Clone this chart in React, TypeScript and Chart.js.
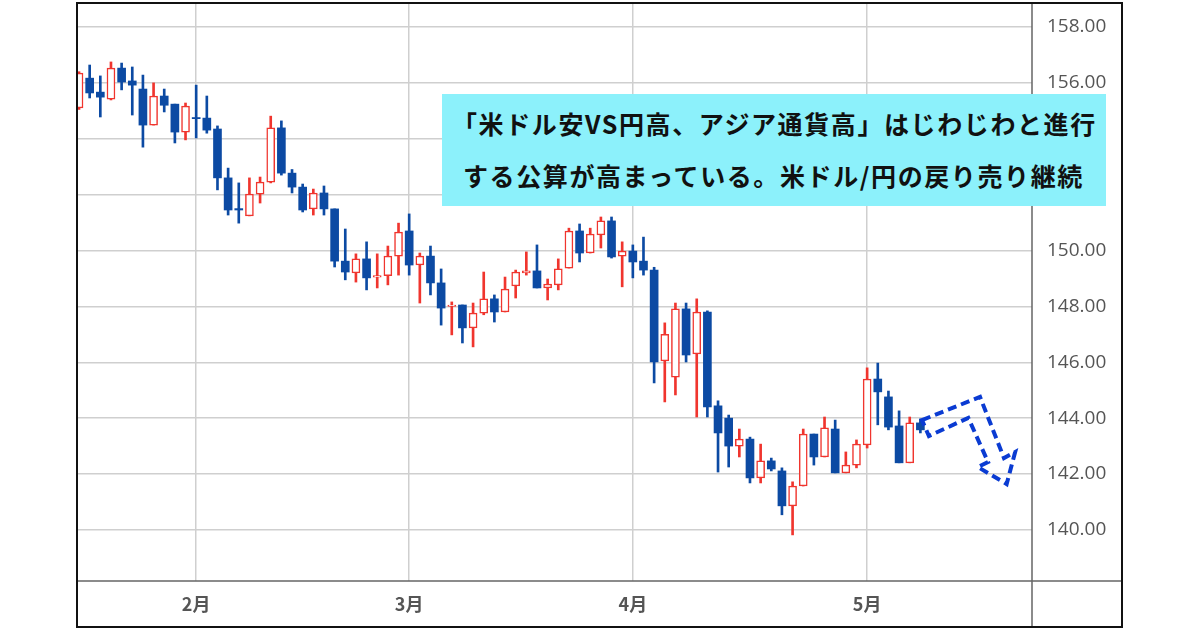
import React, { useEffect, useRef } from "react";
import { Chart, registerables } from "chart.js";

Chart.register(...registerables);

// Trading days (USD/JPY daily candles)
const dates = [
  "01-17", "01-20", "01-21", "01-22", "01-23", "01-24", "01-27", "01-28", "01-29", "01-30", "01-31",
  "02-03", "02-04", "02-05", "02-06", "02-07", "02-10", "02-11", "02-12", "02-13", "02-14",
  "02-17", "02-18", "02-19", "02-20", "02-21", "02-24", "02-25", "02-26", "02-27", "02-28",
  "03-03", "03-04", "03-05", "03-06", "03-07", "03-10", "03-11", "03-12", "03-13", "03-14",
  "03-17", "03-18", "03-19", "03-20", "03-21", "03-24", "03-25", "03-26", "03-27", "03-28", "03-31",
  "04-01", "04-02", "04-03", "04-04", "04-07", "04-08", "04-09", "04-10", "04-11",
  "04-14", "04-15", "04-16", "04-17", "04-18", "04-21", "04-22", "04-23", "04-24", "04-25",
  "04-28", "04-29", "04-30", "05-01", "05-02", "05-05", "05-06", "05-07", "05-08",
];

const opens = [
  155.10, 156.17, 155.67, 155.42, 156.53, 156.07, 155.78, 154.49, 155.53, 155.24, 154.24,
  154.76, 154.74, 154.35, 152.60, 151.50, 151.24, 152.02, 152.45, 154.39, 152.77,
  152.27, 151.49, 152.06, 151.49, 149.62, 149.20, 149.70, 149.05, 149.10, 149.80,
  150.70, 149.48, 149.80, 148.84, 148.00, 148.05, 147.23, 147.76, 148.27, 147.80,
  148.73, 149.20, 149.27, 148.66, 148.77, 149.37, 150.70, 149.91, 150.56, 151.06, 149.80,
  149.98, 149.62, 149.30, 146.05, 145.47, 147.91, 146.30, 147.80, 144.44,
  144.00, 143.00, 143.25, 141.86, 142.47, 142.11, 140.86, 141.57, 143.43, 142.61,
  143.61, 142.04, 142.32, 143.04, 145.40, 144.76, 143.72, 142.40, 143.83,
];

const highs = [
  156.40, 156.64, 156.25, 156.75, 156.71, 156.57, 156.28, 156.00, 155.78, 155.24, 155.28,
  155.92, 155.53, 154.46, 152.95, 152.42, 152.60, 152.63, 154.81, 154.64, 152.90,
  152.38, 152.20, 152.31, 151.49, 150.77, 149.88, 150.31, 149.88, 150.16, 150.98,
  151.31, 149.91, 150.16, 149.34, 148.16, 148.05, 148.12, 149.23, 148.41, 149.05,
  149.30, 149.95, 150.20, 148.98, 149.70, 150.80, 150.95, 150.80, 151.20, 151.20, 150.31,
  150.20, 150.48, 149.40, 147.41, 148.12, 148.12, 148.27, 147.84, 144.62,
  144.11, 143.61, 143.32, 143.07, 142.57, 142.22, 141.72, 143.61, 143.43, 144.04,
  143.93, 142.79, 143.22, 145.80, 145.97, 144.97, 144.26, 144.04, 143.97,
];

const lows = [
  155.05, 155.46, 154.78, 155.39, 155.75, 154.85, 153.70, 154.49, 154.96, 153.85, 153.96,
  154.03, 154.20, 152.17, 151.27, 150.98, 151.24, 151.70, 152.42, 152.70, 152.06,
  151.38, 151.27, 151.27, 149.41, 148.95, 148.87, 148.59, 148.66, 148.77, 149.12,
  149.12, 148.12, 148.41, 147.33, 146.98, 146.69, 146.55, 147.70, 147.44, 147.80,
  148.30, 149.12, 148.66, 148.23, 148.59, 149.37, 149.59, 149.91, 150.09, 149.73, 148.70,
  149.02, 149.12, 145.26, 144.58, 144.83, 146.01, 144.04, 144.04, 142.07,
  142.25, 142.61, 141.68, 141.68, 142.11, 140.54, 139.82, 141.57, 142.32, 142.61,
  142.04, 142.04, 142.22, 142.93, 143.76, 143.58, 142.40, 142.40, 143.47,
];

const closes = [
  156.35, 155.64, 155.49, 156.53, 156.03, 155.92, 154.49, 155.53, 155.20, 154.24, 155.17,
  154.72, 154.31, 152.60, 151.45, 151.45, 152.02, 152.45, 154.39, 152.77, 152.27,
  151.45, 152.06, 151.49, 149.62, 149.23, 149.70, 149.02, 149.10, 149.80, 150.66,
  149.48, 149.80, 148.84, 147.94, 148.05, 147.23, 147.76, 148.27, 147.80, 148.62,
  149.23, 149.27, 148.66, 148.80, 149.34, 150.70, 149.91, 150.59, 151.06, 149.77, 149.98,
  149.59, 149.30, 146.01, 147.00, 147.91, 146.26, 147.80, 144.40, 143.47,
  143.00, 143.25, 141.86, 142.47, 142.18, 140.86, 141.57, 143.43, 142.61, 143.65,
  142.04, 142.32, 143.07, 145.40, 144.94, 143.68, 142.40, 143.83, 143.58,
];

// Axis ticks
const monthTickIndex = [11, 31, 52, 74];
const monthTickLabels = ["2月", "3月", "4月", "5月"];
const priceTicks = [140, 142, 144, 146, 148, 150, 152, 154, 156, 158];
const xRange = [-0.19, 89.48];
const yRange = [138.17, 158.86];

// Forecast arrow outline (index, price)
const arrowIdx = [79.15, 84.6, 86.85, 87.9, 87.1, 84.4, 85.35, 83.5, 79.8];
const arrowPrice = [143.93, 144.76, 142.57, 142.79, 141.64, 142.25, 142.43, 144.01, 143.36];

const noteLines = [
  "「米ドル安VS円高、アジア通貨高」はじわじわと進行",
  "する公算が高まっている。米ドル/円の戻り売り継続",
];

const BLUE = "#0c4aa3";
const RED = "#f0352e";

export default function App() {
  const ref = useRef<HTMLCanvasElement>(null);

  useEffect(() => {
    if (!ref.current) return;
    const up = closes.map((c, i) => c >= opens[i]);

    const decor = {
      id: "decor",
      afterDatasetsDraw(chart: any) {
        const { ctx, scales } = chart;
        const xs = scales.x;
        const ys = scales.y;
        ctx.save();
        ctx.strokeStyle = "#0a3bd2";
        ctx.lineWidth = 4;
        ctx.setLineDash([9, 5]);
        ctx.lineJoin = "miter";
        ctx.beginPath();
        arrowIdx.forEach((v, i) => {
          const px = xs.getPixelForValue(v);
          const py = ys.getPixelForValue(arrowPrice[i]);
          if (i === 0) ctx.moveTo(px, py);
          else ctx.lineTo(px, py);
        });
        ctx.closePath();
        ctx.stroke();
        ctx.restore();
      },
      afterDraw(chart: any) {
        const { ctx, chartArea: ca, scales } = chart;
        const fl = ca.left;
        const ft = ca.top;
        const fr = scales.y.right;
        const fb = scales.x.bottom;
        ctx.save();
        ctx.strokeStyle = "#666";
        ctx.lineWidth = 1.5;
        ctx.beginPath();
        ctx.moveTo(ca.right, ft);
        ctx.lineTo(ca.right, fb);
        ctx.moveTo(fl, ca.bottom);
        ctx.lineTo(fr, ca.bottom);
        ctx.stroke();
        ctx.strokeStyle = "#111";
        ctx.lineWidth = 2;
        ctx.strokeRect(fl, ft, fr - fl, fb - ft);
        ctx.restore();
      },
    };

    const chart = new Chart(ref.current, {
      type: "bar",
      data: {
        datasets: [
          {
            label: "body",
            data: dates.map((_, i) => ({ x: i, y: [opens[i], closes[i]] })) as any,
            backgroundColor: up.map((u) => (u ? "#ffffff" : BLUE)),
            borderColor: up.map((u) => (u ? RED : BLUE)),
            borderWidth: up.map((u) => (u ? 1.5 : 0)) as any,
            borderSkipped: false,
            barThickness: 8,
            grouped: false,
            order: 0,
          } as any,
          {
            label: "wick",
            data: dates.map((_, i) => ({ x: i, y: [lows[i], highs[i]] })) as any,
            backgroundColor: up.map((u) => (u ? RED : BLUE)),
            borderWidth: 0,
            barThickness: 2,
            grouped: false,
            order: 1,
          } as any,
        ],
      },
      options: {
        animation: false,
        responsive: false,
        maintainAspectRatio: false,
        layout: { padding: { left: 77, top: 3, right: 78, bottom: 3 } },
        plugins: { legend: { display: false }, tooltip: { enabled: false } },
        scales: {
          x: {
            type: "linear",
            min: xRange[0],
            max: xRange[1],
            offset: false,
            grid: { color: "#cfcfcf", lineWidth: 1.5, drawTicks: false, offset: false },
            border: { display: false },
            afterBuildTicks: (s: any) => {
              s.ticks = monthTickIndex.map((v) => ({ value: v }));
            },
            afterFit: (s: any) => {
              s.height = 46;
              s.paddingLeft = 0;
              s.paddingRight = 0;
              s.paddingTop = 0;
              s.paddingBottom = 0;
            },
            ticks: {
              autoSkip: false,
              maxRotation: 0,
              padding: 12,
              color: "#555",
              font: { family: "'Noto Sans CJK JP', sans-serif", size: 18, weight: "bold" },
              callback: (_v: any, i: number) => monthTickLabels[i],
            },
          } as any,
          y: {
            type: "linear",
            position: "right",
            min: yRange[0],
            max: yRange[1],
            grid: { color: "#cfcfcf", lineWidth: 1.5, drawTicks: false },
            border: { display: false },
            afterBuildTicks: (s: any) => {
              s.ticks = priceTicks.map((v) => ({ value: v }));
            },
            afterFit: (s: any) => {
              s.width = 90;
              s.paddingTop = 0;
              s.paddingBottom = 0;
              s.paddingLeft = 0;
              s.paddingRight = 0;
            },
            ticks: {
              padding: 15,
              color: "#555",
              font: { family: "'Open Sans', sans-serif", size: 19 },
              callback: (v: any) => Number(v).toFixed(2),
            },
          } as any,
        },
      },
      plugins: [decor],
    });
    return () => chart.destroy();
  }, []);

  return (
    <div style={{ position: "absolute", left: 0, top: 0, width: 1200, height: 630, background: "#fff", overflow: "hidden" }}>
      <canvas ref={ref} width={1200} height={630} style={{ display: "block", width: 1200, height: 630 }} />
      <div
        style={{
          position: "absolute",
          left: 442,
          top: 94,
          width: 664,
          height: 112,
          boxSizing: "border-box",
          background: "#8cf1fb",
          paddingTop: 3,
          paddingLeft: 21,
          fontFamily: "'Noto Sans CJK JP', sans-serif",
          fontWeight: 700,
          fontSize: 25,
          letterSpacing: 1.6,
          lineHeight: "52px",
          color: "#111",
          whiteSpace: "nowrap",
        }}
      >
        {noteLines.map((t) =>
          t.startsWith("「") ? (
            <div key={t}>
              <span style={{ marginLeft: -11 }}>「</span>
              {t.slice(1)}
            </div>
          ) : (
            <div key={t}>{t}</div>
          )
        )}
      </div>
    </div>
  );
}
